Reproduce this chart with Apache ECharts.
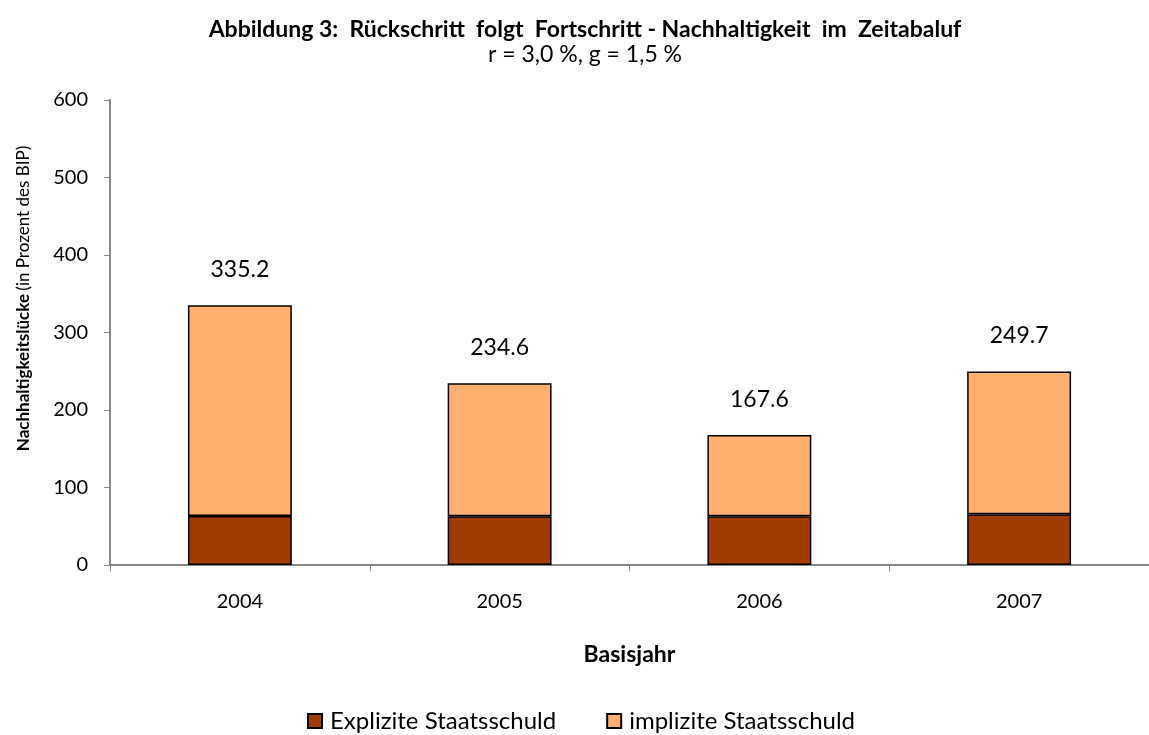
<!DOCTYPE html>
<html>
<head>
<meta charset="utf-8">
<script src="https://cdn.jsdelivr.net/npm/echarts@6/dist/echarts.min.js"></script>
<style>
  html, body { margin: 0; padding: 0; background: #fff; }
  #main { width: 1149px; height: 735px; }
</style>
</head>
<body>
<div id="main"></div>
<script type="text/javascript">
// Daten aus der Abbildung
var jahre = ['2004', '2005', '2006', '2007'];
var explizit = [63.2, 62.8, 62.9, 65.4];
var implizit = [272.0, 171.8, 104.7, 184.3];
var gesamt = [335.2, 234.6, 167.6, 249.7];
var yTicks = [0, 100, 200, 300, 400, 500, 600];

var chart = echarts.init(document.getElementById('main'));
var font = 'Lato, "Open Sans", sans-serif';

var option = {
    animation: false,
    title: {
        text: 'Abbildung 3:  Rückschritt  folgt  Fortschritt - Nachhaltigkeit  im  Zeitabaluf',
        subtext: 'r = 3,0 %, g = 1,5 %',
        left: 580,
        textAlign: 'center',
        top: 13,
        itemGap: 2,
        textStyle: { fontFamily: font, fontSize: 23, fontWeight: 'bold', color: '#000' },
        subtextStyle: { fontFamily: font, fontSize: 23, color: '#000' }
    },
    legend: {
        top: 704,
        left: 302,
        icon: 'rect',
        itemWidth: 14,
        itemHeight: 14,
        itemGap: 50,
        textStyle: { fontFamily: font, fontSize: 24, color: '#000', padding: [0, 0, 0, 3] },
        data: ['Explizite Staatsschuld', 'implizite Staatsschuld']
    },
    grid: { left: 110, top: 100, width: 1045, height: 465 },
    xAxis: {
        type: 'category',
        data: jahre,
        name: 'Basisjahr',
        nameLocation: 'middle',
        nameGap: 78,
        nameTextStyle: { fontFamily: font, fontSize: 23, fontWeight: 'bold', color: '#000' },
        axisLine: { lineStyle: { color: '#888', width: 2 } },
        axisTick: { show: true, length: 6, lineStyle: { color: '#888' } },
        axisLabel: { fontFamily: font, fontSize: 20, color: '#000', margin: 27 }
    },
    yAxis: {
        type: 'value',
        min: yTicks[0],
        max: yTicks[yTicks.length - 1],
        interval: 100,
        name: '{b|Nachhaltigkeitslücke} {n|(in Prozent des BIP)}',
        nameLocation: 'middle',
        nameGap: 78,
        nameTextStyle: {
            padding: [0, 0, 0, 68],
            rich: {
                b: { fontFamily: font, fontSize: 17, fontWeight: 'bold', color: '#000' },
                n: { fontFamily: font, fontSize: 17, color: '#000' }
            }
        },
        axisLine: { show: true, lineStyle: { color: '#888', width: 2 } },
        axisTick: { show: true, length: 6, inside: false, lineStyle: { color: '#888' } },
        splitLine: { show: false },
        axisLabel: { fontFamily: font, fontSize: 20, color: '#000', margin: 22 }
    },
    series: [
        {
            name: 'Explizite Staatsschuld',
            type: 'bar',
            stack: 'summe',
            barWidth: '40%',
            data: explizit,
            itemStyle: { color: '#a03c00', borderColor: '#000', borderWidth: 1.5 }
        },
        {
            name: 'implizite Staatsschuld',
            type: 'bar',
            stack: 'summe',
            barWidth: '40%',
            data: implizit,
            itemStyle: { color: '#ffb06e', borderColor: '#000', borderWidth: 1.5 },
            label: {
                show: true,
                position: 'top',
                distance: 24,
                fontFamily: font,
                fontSize: 23,
                color: '#000',
                formatter: function (p) { return gesamt[p.dataIndex].toFixed(1); }
            }
        }
    ]
};
chart.setOption(option);
</script>
</body>
</html>
